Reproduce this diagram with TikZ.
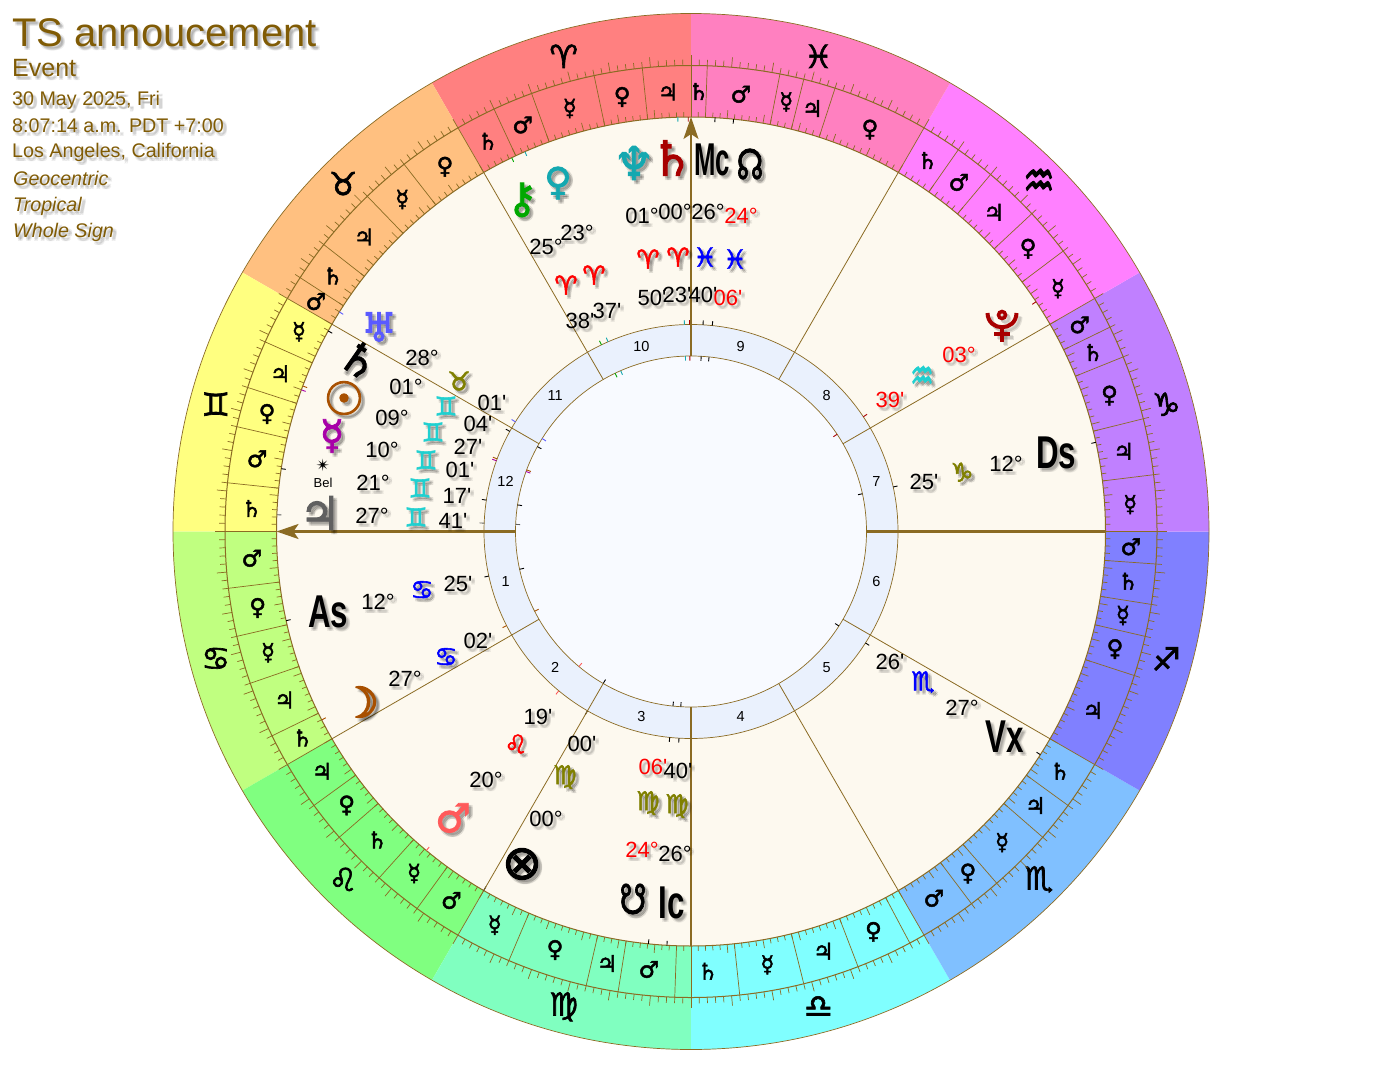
\documentclass[tikz,border=0pt]{standalone}
\usepackage{fontspec}
\usepackage{graphicx}
\setmainfont[Ligatures=TeXOff]{Liberation Sans}
\newfontfamily\symfont{DejaVu Sans}
\newfontfamily\symbold[FakeBold=2]{DejaVu Sans}
\newfontfamily\symheavy[FakeBold=4]{DejaVu Sans}

\definecolor{rim}{HTML}{8B6B23}
\definecolor{titlebrown}{HTML}{805B05}
\definecolor{cream}{HTML}{FDF9EF}
\definecolor{paleblue}{HTML}{EAF1FD}
\definecolor{paledisc}{HTML}{F8FAFF}
\definecolor{teal}{HTML}{14A8B0}
\definecolor{aqua}{HTML}{20D0D0}
\definecolor{darkred}{HTML}{A80000}
\definecolor{rust}{HTML}{A85000}
\definecolor{olive}{HTML}{808000}
\definecolor{plum}{HTML}{A800A8}
\definecolor{ivy}{HTML}{00A800}
\definecolor{slate}{HTML}{606060}
\definecolor{iris}{HTML}{5A5AFF}
\definecolor{coral}{HTML}{FF5A5A}

\tikzset{
  head/.style={text=titlebrown, anchor=base west, inner sep=0pt},
  num/.style={font=\fontsize{22}{22}\selectfont, inner sep=0pt},
  glyph/.style={font=\symbold\fontsize{#1}{#1}\selectfont, inner sep=0pt},
  heavy/.style={font=\symheavy\fontsize{#1}{#1}\selectfont, inner sep=0pt},
  axis/.style={rim, line width=1.8pt},
  flataxis/.style={rim, line width=2.4pt},
  tipline/.style={rim, -{Stealth[length=22pt, width=15pt, inset=5pt]}},
}

% soft shadow behind a text: name, style, position, text
\newcommand{\shadowed}[4]{
  \foreach \sx/\sy in {2/-2, 3/-3, 4/-4, 4/-2, 2/-4}
    \node[#2, text=black, text opacity=0.07, xshift=\sx pt, yshift=\sy pt] at (#3) {#4};
  \node[#2] (#1) at (#3) {#4};
}

\usetikzlibrary{arrows.meta}

\begin{document}
\begin{tikzpicture}[x=1pt, y=-1pt]
  \useasboundingbox (0,0) rectangle (1384,1065);

  \begin{scope}[shift={(691,531.5)}, x=1pt, y=1pt]
    % Sign sectors
    \foreach \a/\col/\sgn in {90/FF8080/♈, 120/FFC080/♉, 150/FFFF80/♊, 180/C0FF80/♋,
        210/80FF80/♌, 240/80FFC0/♍, 270/80FFFF/♎, 300/80C0FF/♏,
        330/8080FF/♐, 360/C080FF/♑, 30/FF80FF/{\scalebox{1.1}[1.6]{♒}}, 60/FF80C0/♓} {
      \definecolor{sect}{HTML}{\col}
      \fill[sect] (0,0) -- (\a:518) arc[start angle=\a, delta angle=30, radius=518pt] -- cycle;
      \node[glyph=32] (sign\a) at (\a+15:492) {\sgn};
    }

    % Discs
    \fill[cream] (0,0) circle (414.5);
    \fill[paleblue] (0,0) circle (207);
    \fill[paledisc] (0,0) circle (175.5);
    \draw[rim, line width=0.7pt] (0,0) circle (518);
    \foreach \r in {466, 414.5} \draw[rim, line width=1pt] (0,0) circle (\r);
    \foreach \r in {207, 175.5} \draw[rim, line width=0.7pt] (0,0) circle (\r);

    % Degree ticks on both rings
    \foreach \d in {0,...,359} {
      \pgfmathtruncatemacro{\rest}{mod(\d,5)}
      \ifnum\rest=0
        \draw[rim, line width=0.7pt] (\d:466) -- (\d:476);
        \draw[rim, line width=0.7pt] (\d:414.5) -- (\d:423);
      \else
        \draw[rim, line width=0.7pt] (\d:466) -- (\d:472);
        \draw[rim, line width=0.7pt] (\d:414.5) -- (\d:419.5);
      \fi
    }

    % Terms
    \foreach \b/\e/\p in {90/96/♃, 96/102/♀, 102/110/☿, 110/115/♂, 115/120/♄,
        120/128/♀, 128/134/☿, 134/142/♃, 142/147/♄, 147/150/♂,
        150/156/☿, 156/162/♃, 162/167/♀, 167/174/♂, 174/180/♄,
        180/187/♂, 187/193/♀, 193/199/☿, 199/206/♃, 206/210/♄,
        210/216/♃, 216/221/♀, 221/228/♄, 228/234/☿, 234/240/♂,
        240/247/☿, 247/257/♀, 257/261/♃, 261/268/♂,
        276/284/☿, 284/291/♃, 291/298/♀,
        300/307/♂, 307/311/♀, 311/319/☿, 319/324/♃, 324/330/♄,
        330/342/♃, 342/347/♀, 347/351/☿, 351/356/♄, 356/360/♂,
        360/367/☿, 367/374/♃, 374/382/♀, 382/386/♄, 386/390/♂,
        390/397/☿, 397/403/♀, 403/410/♃, 410/415/♂, 415/420/♄,
        420/432/♀, 432/436/♃, 436/439/☿, 439/448/♂, 448/450/♄} {
      \draw[rim, line width=0.7pt] (\b:414.5) -- (\b:466);
      \node[glyph=23] (term\b) at ({(\b+\e)/2}:440) {\p};
    }
    \foreach \b in {268, 270, 298} \draw[rim, line width=0.7pt] (\b:414.5) -- (\b:466);
    \node[glyph=23] (term270) at (272.2:440) {♄};

    % Marks of the bodies on the three rings
    \foreach \a/\col in {91.83/teal, 90.38/darkred, 86.67/black, 84.1/black, 115.63/ivy, 113.62/teal,
        148.02/iris, 151.07/black, 159.45/rust, 160.02/plum, 171.28/black, 177.68/slate,
        192.42/black, 207.03/rust, 230.32/coral, 240/black, 264.1/black, 266.67/black,
        327.43/black, 12.42/black, 33.65/darkred} {
      \draw[\col, line width=0.9pt] (\a:414.5) -- (\a:410);
      \draw[\col, line width=0.9pt] (\a:207) -- (\a:211.5);
      \draw[\col, line width=0.9pt] (\a:175.5) -- (\a:171);
    }

    % House lines
    \foreach \a in {30, 60, 120, 150, 210, 240, 300, 330}
      \draw[rim, line width=0.8pt] (\a:175.5) -- (\a:414.5);
    \draw[flataxis] (0:175.5) -- (0:414.5);
    \draw[axis] (270:175.5) -- (270:414.5);
    \coordinate (mcin) at (90:175.5);
    \coordinate (mcout) at (90:414.5);
    \coordinate (asin) at (180:175.5);
    \coordinate (asout) at (180:414.5);
    \draw[tipline, line width=1.8pt] (mcin) -- (mcout);
    \draw[tipline, line width=2.4pt] (asin) -- (asout);

    % House numbers
    \foreach \h in {1,...,12}
      \node[font=\fontsize{14.5}{14.5}\selectfont, inner sep=0pt] (house\h) at (165+30*\h:192) {\h};
  \end{scope}

  % Bodies and angles
  \foreach \n/\c/\s/\x/\y/\g in {nep/teal/46/634/163/♆, sat/darkred/48/672/158/♄,
      nn/black/42/750/164/{\scalebox{0.72}[1]{☊}},
      ven/teal/38/558/183/♀, chi/ivy/42/522/200/⚷, ura/iris/40/379/327/♅,
      sun/rust/46/344/398/☉, mer/plum/40/332/436/☿, jup/slate/46/320/513/♃,
      mar/coral/40/453/818/♂, pof/black/48/522/864/⊗, sn/black/42/633/899/{\scalebox{0.72}[1]{☋}}}
    \shadowed{\n}{text=\c, glyph=\s}{\x,\y}{\g};
  \shadowed{lil}{text=black, glyph=44, rotate=-35}{360,360}{♄}
  \shadowed{moo}{text=rust, heavy=42}{360,702}{☽}

  % Pluto
  \foreach \sx/\sy/\c/\o in {3/3/black/0.1, 4/4/black/0.1, 0/0/darkred/1} {
    \begin{scope}[shift={(\sx,\sy)}, \c, opacity=\o, line width=4pt]
      \draw (987.5,313) .. controls (988,332) and (1016,332) .. (1016.5,313);
      \draw (1002,327) -- (1002,342);
      \draw (994,334) -- (1010,334);
      \draw[line width=3.5pt] (1002,315) circle (3.5);
    \end{scope}
  }

  \node[font=\symfont\fontsize{17}{17}\selectfont, inner sep=0pt] (belstar) at (323,465) {✴};
  \node[font=\fontsize{13}{13}\selectfont, inner sep=0pt] (bellab) at (323,483) {Bel};

  \foreach \n/\x/\y/\w/\t in {mc/712/160/0.56/Mc, ic/672/903/0.68/Ic, as/328/612/0.68/As, ds/1056/453/0.68/Ds, vx/1005/737/0.68/Vx}
    \shadowed{\n}{font=\bfseries\fontsize{46}{46}\selectfont, inner sep=0pt}{\x,\y}{\scalebox{\w}[1]{\t}};

  % Small sign glyphs
  \foreach \n/\c/\x/\y/\g in {a1/red/566/285/♈, a2/red/594/275/♈, a3/red/648/259/♈, a4/red/678/257/♈,
      p1/blue/705/257/♓, p2/blue/735/259/♓, t1/olive/459/381/♉, g1/aqua/446/406/♊, g2/aqua/433/432/♊,
      g3/aqua/426/460/♊, g4/aqua/420/488/♊, g5/aqua/416/517/♊, c1/blue/422/590/♋, c2/blue/446/657/♋,
      l1/red/516/744/♌, v1/olive/565/777/♍, v2/olive/648/803/♍, v3/olive/677/806/♍,
      s1/blue/923/682/♏, k1/olive/962/472/♑, q1/aqua/922/378/{\scalebox{1}[1.6]{♒}}}
    \shadowed{\n}{text=\c, glyph=26}{\x,\y}{\g};

  % Degrees and minutes
  \foreach \n/\c/\x/\y/\t in {d1/black/642/216/01°, d2/black/675/212/00°, d3/black/708/212/26°, d4/red/741/216/24°,
      d5/black/546/247/25°, d6/black/577/233/23°, d7/black/422/358/28°, d8/black/406/387/01°, d9/black/392/418/09°,
      d10/black/382/450/10°, d11/black/373/483/21°, d12/black/372/516/27°, d13/black/378/602/12°, d14/black/405/679/27°,
      d15/black/486/780/20°, d16/black/546/819/00°, d17/red/642/850/24°, d18/black/675/854/26°, d19/red/959/355/03°,
      d20/black/1006/464/12°, d21/black/962/708/27°,
      m1/black/580/321/38', m2/black/607/311/37', m3/black/652/298/50', m4/black/677/295/23', m5/black/703/295/40', m6/red/728/298/06',
      m7/black/492/403/01', m8/black/478/424/04', m9/black/468/447/27', m10/black/460/470/01', m11/black/457/496/17', m12/black/453/521/41',
      m13/black/458/584/25', m14/black/478/641/02', m15/black/538/717/19', m16/black/582/744/00', m17/red/653/767/06', m18/black/678/771/40',
      m19/red/890/400/39', m20/black/924/482/25', m21/black/890/662/26'}
    \shadowed{\n}{text=\c, num}{\x,\y}{\t};

  % Heading
  \shadowed{title}{head, font=\fontsize{40}{40}\selectfont}{12,46.7}{TS annoucement}
  \shadowed{kind}{head, font=\fontsize{25}{25}\selectfont}{12,76.7}{Event}
  \foreach \n/\y/\t in {date/106/{30 May 2025, Fri}, time/132/{8:07:14 a.m. PDT +7:00}, place/157.7/{Los Angeles, California}}
    \shadowed{\n}{head, font=\fontsize{19.7}{19.7}\selectfont}{12,\y}{\t};
  \foreach \n/\y/\t in {geo/185.7/Geocentric, zod/211.7/Tropical, hou/237.5/Whole Sign}
    \shadowed{\n}{head, font=\itshape\fontsize{19.7}{19.7}\selectfont}{13,\y}{\t};
\end{tikzpicture}
\end{document}
